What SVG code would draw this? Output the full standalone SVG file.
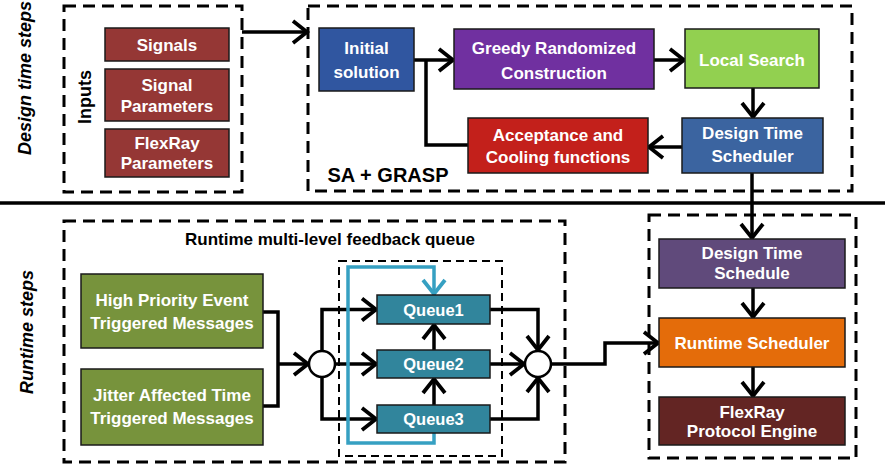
<svg xmlns="http://www.w3.org/2000/svg" width="885" height="467" viewBox="0 0 885 467">
  <style>
    text { font-family: "Liberation Sans", Arial, sans-serif; font-weight: bold; }
    .lbl { fill: #ffffff; font-size: 17px; text-anchor: middle; }
    .q { fill: #ffffff; font-size: 16.5px; text-anchor: middle; }
    .side { fill: #000000; font-size: 18px; font-style: italic; text-anchor: middle; }
    .title { fill: #000000; text-anchor: middle; }
    .box { stroke: #1a1a1a; stroke-width: 1.5; }
    .dash { fill: none; stroke: #000000; stroke-width: 3; stroke-dasharray: 12 7; }
    .dash-thin { fill: none; stroke: #000000; stroke-width: 2; stroke-dasharray: 8 5; }
    .wire { fill: none; stroke: #000000; stroke-width: 3.5; }
    .arrow { fill: none; stroke: #000000; stroke-width: 3.5; marker-end: url(#arr); }
    .loop { fill: none; stroke: #36a0c2; stroke-width: 3.5; marker-end: url(#arr-teal); }
    .hub { fill: #ffffff; stroke: #000000; stroke-width: 2.5; }
  </style>
  <defs>
    <marker id="arr" markerUnits="userSpaceOnUse" markerWidth="22" markerHeight="28" viewBox="0 0 22 28" refX="19" refY="14" orient="auto">
      <path d="M4,3 L18,14 L4,25" fill="none" stroke="#000000" stroke-width="3.8"/>
    </marker>
    <marker id="arr-teal" markerUnits="userSpaceOnUse" markerWidth="22" markerHeight="28" viewBox="0 0 22 28" refX="19" refY="14" orient="auto">
      <path d="M4,3 L18,14 L4,25" fill="none" stroke="#36a0c2" stroke-width="3.8"/>
    </marker>
  </defs>

  <!-- section labels -->
  <text class="side" transform="translate(31,78) rotate(-90)">Design time steps</text>
  <text class="side" transform="translate(33,332) rotate(-90)">Runtime steps</text>

  <!-- grouping frames -->
  <g id="frames">
    <rect class="dash" x="64" y="6" width="178" height="186"/>
    <rect class="dash" x="308" y="6" width="544" height="185"/>
    <rect class="dash" x="64" y="221" width="501" height="241"/>
    <rect class="dash-thin" x="339" y="261" width="163" height="195"/>
    <rect class="dash" x="649" y="215" width="207" height="243"/>
    <text class="title" font-size="18" transform="translate(91,97) rotate(-90)">Inputs</text>
    <text class="title" font-size="20" x="388" y="182">SA + GRASP</text>
    <text class="title" font-size="17" x="330" y="245">Runtime multi-level feedback queue</text>
  </g>

  <!-- connectors -->
  <g id="connectors">
    <path class="arrow" d="M242,32 H308"/>
    <path class="arrow" d="M414,60 H454"/>
    <path class="wire" d="M468,145 H426 V60"/>
    <path class="arrow" d="M654,60 H685"/>
    <path class="arrow" d="M753,88 V118"/>
    <path class="arrow" d="M682,147 H648"/>
    <path class="arrow" d="M752,173 V239"/>
    <path class="wire" d="M0,203 H885"/>
    <path class="wire" d="M263,312 H278 V406 H263"/>
    <path class="arrow" d="M278,364 H309"/>
    <path class="arrow" d="M322,351 V309.5 H377"/>
    <path class="arrow" d="M335,364 H377"/>
    <path class="arrow" d="M322,377 V419 H377"/>
    <path class="arrow" d="M434,405 V378"/>
    <path class="arrow" d="M434,350 V324"/>
    <path class="loop" d="M434,433 V443 H348 V267 H434 V295"/>
    <path class="arrow" d="M490,309.5 H538 V351"/>
    <path class="arrow" d="M490,364 H525"/>
    <path class="arrow" d="M490,419 H538 V377"/>
    <path class="arrow" d="M551,364 H605 V343 H659"/>
    <path class="arrow" d="M753,288 V318"/>
    <path class="arrow" d="M753,367 V397"/>
    <circle class="hub" cx="322" cy="364" r="13"/>
    <circle class="hub" cx="538" cy="364" r="13"/>
  </g>

  <!-- inputs -->
  <g id="signals">
    <rect class="box" x="105" y="28" width="124" height="33" fill="#953735"/>
    <text class="lbl" x="167" y="50.5">Signals</text>
  </g>
  <g id="signal-parameters">
    <rect class="box" x="105" y="69" width="124" height="52" fill="#953735"/>
    <text class="lbl" x="167" y="91">Signal</text>
    <text class="lbl" x="167" y="112">Parameters</text>
  </g>
  <g id="flexray-parameters">
    <rect class="box" x="105" y="129" width="124" height="48" fill="#953735"/>
    <text class="lbl" x="167" y="149">FlexRay</text>
    <text class="lbl" x="167" y="169">Parameters</text>
  </g>

  <!-- SA + GRASP -->
  <g id="initial-solution">
    <rect class="box" x="319" y="28" width="95" height="63" fill="#3056a0"/>
    <text class="lbl" x="366.5" y="54">Initial</text>
    <text class="lbl" x="366.5" y="78">solution</text>
  </g>
  <g id="greedy-randomized-construction">
    <rect class="box" x="454" y="29" width="200" height="60" fill="#7030a0"/>
    <text class="lbl" x="554" y="54">Greedy Randomized</text>
    <text class="lbl" x="554" y="79">Construction</text>
  </g>
  <g id="local-search">
    <rect class="box" x="685" y="29" width="134" height="59" fill="#92d050"/>
    <text class="lbl" x="752" y="66">Local Search</text>
  </g>
  <g id="design-time-scheduler">
    <rect class="box" x="682" y="118" width="141" height="55" fill="#3b64a0"/>
    <text class="lbl" x="752.5" y="139">Design Time</text>
    <text class="lbl" x="752.5" y="162">Scheduler</text>
  </g>
  <g id="acceptance-cooling">
    <rect class="box" x="468" y="118" width="180" height="55" fill="#c3201b"/>
    <text class="lbl" x="558" y="141">Acceptance and</text>
    <text class="lbl" x="558" y="163">Cooling functions</text>
  </g>

  <!-- runtime queue -->
  <g id="high-priority-event">
    <rect class="box" x="81" y="274" width="182" height="74" fill="#77933c"/>
    <text class="lbl" x="172" y="306">High Priority Event</text>
    <text class="lbl" x="172" y="329">Triggered Messages</text>
  </g>
  <g id="jitter-affected-time">
    <rect class="box" x="81" y="369" width="182" height="76" fill="#77933c"/>
    <text class="lbl" x="172" y="401">Jitter Affected Time</text>
    <text class="lbl" x="172" y="424">Triggered Messages</text>
  </g>
  <g id="queue1">
    <rect class="box" x="377" y="295" width="113" height="29" fill="#31859c"/>
    <text class="q" x="433.5" y="315.5">Queue1</text>
  </g>
  <g id="queue2">
    <rect class="box" x="377" y="350" width="113" height="28" fill="#31859c"/>
    <text class="q" x="433.5" y="370">Queue2</text>
  </g>
  <g id="queue3">
    <rect class="box" x="377" y="405" width="113" height="28" fill="#31859c"/>
    <text class="q" x="433.5" y="425">Queue3</text>
  </g>

  <!-- runtime scheduling -->
  <g id="design-time-schedule">
    <rect class="box" x="659" y="239" width="186" height="49" fill="#604a7b"/>
    <text class="lbl" x="752" y="259">Design Time</text>
    <text class="lbl" x="752" y="279">Schedule</text>
  </g>
  <g id="runtime-scheduler">
    <rect class="box" x="659" y="318" width="186" height="49" fill="#e46c0a"/>
    <text class="lbl" x="752" y="349">Runtime Scheduler</text>
  </g>
  <g id="flexray-protocol-engine">
    <rect class="box" x="659" y="397" width="186" height="48" fill="#632523"/>
    <text class="lbl" x="752" y="418">FlexRay</text>
    <text class="lbl" x="752" y="437">Protocol Engine</text>
  </g>
</svg>
